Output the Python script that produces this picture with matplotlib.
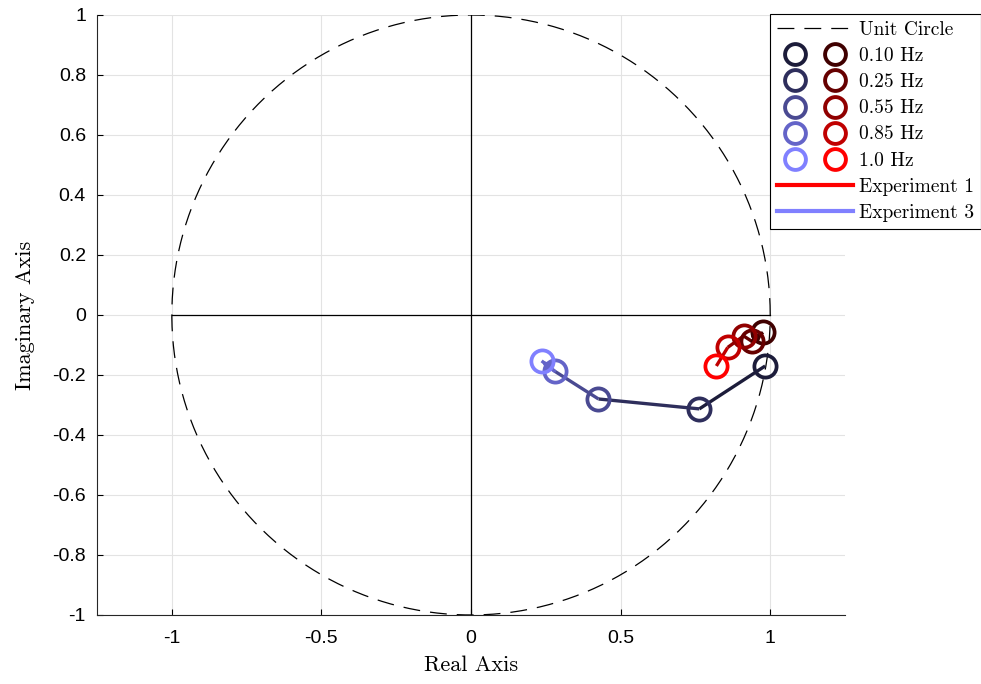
import numpy as np
import matplotlib

matplotlib.use("Agg")
import matplotlib.pyplot as plt
from matplotlib.lines import Line2D
from matplotlib.legend_handler import HandlerTuple

# frequencies and pole locations
freq_labels = ["0.10 Hz", "0.25 Hz", "0.55 Hz", "0.85 Hz", "1.0 Hz"]

exp1_re = [0.976, 0.939, 0.911, 0.858, 0.820]
exp1_im = [-0.058, -0.088, -0.070, -0.108, -0.170]

exp3_re = [0.983, 0.763, 0.426, 0.279, 0.236]
exp3_im = [-0.170, -0.313, -0.280, -0.187, -0.153]

blue_cols = ["#1c1c3a", "#2e2e5c", "#4a4a92", "#6464c8", "#8080ff"]
red_cols = ["#400000", "#660000", "#900000", "#c00000", "#ff0000"]

SERIF = "cmr10"
SANS = "Liberation Sans"
DASH = (13.5, 8)

fig = plt.figure(figsize=(9.81, 6.84), dpi=100)
ax = fig.add_axes([0.0989, 0.1009, 0.7625, 0.8772])

# grid + axes cross + unit circle
ax.grid(True, color="#e3e3e3", lw=0.8)
ax.set_axisbelow(True)
ax.plot([-1, 1], [0, 0], color="black", lw=0.9, zorder=1)
ax.plot([0, 0], [-1, 1], color="black", lw=0.9, zorder=1)
th = np.linspace(0, 2 * np.pi, 400)
ax.plot(np.cos(th), np.sin(th), color="black", lw=0.9, dashes=DASH, zorder=1)


def draw_track(re, im, cols, arrow_at_end):
    for i in range(len(re) - 1):
        ax.plot(re[i:i + 2], im[i:i + 2], color=cols[i], lw=2.4,
                solid_capstyle="butt", zorder=2)
    if arrow_at_end:
        a, b = -2, -1
    else:
        a, b = 1, 0
    ax.annotate("", xy=(re[b], im[b]), xytext=(re[a], im[a]),
                arrowprops=dict(arrowstyle="-|>", color=cols[min(a, b)],
                                lw=2.4, mutation_scale=12,
                                shrinkA=0, shrinkB=0), zorder=2)
    for x, y, c in zip(re, im, cols):
        ax.plot(x, y, "o", ms=16, mfc="none", mec=c, mew=2.7, zorder=3)


draw_track(exp3_re, exp3_im, blue_cols, True)
draw_track(exp1_re, exp1_im, red_cols, False)

ax.set_xlim(-1.25, 1.25)
ax.set_ylim(-1, 1)
xt = [-1, -0.5, 0, 0.5, 1]
yt = np.round(np.arange(-1, 1.01, 0.2), 1)
ax.set_xticks(xt)
ax.set_xticklabels(["-1", "-0.5", "0", "0.5", "1"])
ax.set_yticks(yt)
ax.set_yticklabels([("%g" % v) if v != 0 else "0" for v in yt])
for lab in ax.get_xticklabels() + ax.get_yticklabels():
    lab.set_fontfamily(SANS)
    lab.set_fontsize(14)
ax.tick_params(direction="in", length=4, width=0.8, pad=8)
ax.tick_params(axis="x", pad=11)
for s in ["top", "right"]:
    ax.spines[s].set_visible(False)
for s in ["left", "bottom"]:
    ax.spines[s].set_linewidth(0.8)
    ax.spines[s].set_color("#262626")

ax.set_xlabel("Real Axis", fontfamily=SERIF, fontsize=16, labelpad=6)
ax.set_ylabel("Imaginary Axis", fontfamily=SERIF, fontsize=16, labelpad=12)

# legend
handles = [Line2D([], [], color="black", lw=0.9, dashes=DASH)]
labels = ["Unit Circle"]
for i, lab in enumerate(freq_labels):
    hb = Line2D([], [], ls="none", marker="o", ms=15, mfc="none",
                mec=blue_cols[i], mew=2.8)
    hr = Line2D([], [], ls="none", marker="o", ms=15, mfc="none",
                mec=red_cols[i], mew=2.8)
    handles.append((hb, hr))
    labels.append(lab)
handles.append(Line2D([], [], color="#ff0000", lw=3))
labels.append("Experiment 1")
handles.append(Line2D([], [], color="#8080ff", lw=3))
labels.append("Experiment 3")

leg = fig.legend(handles, labels, loc="upper right",
                 bbox_to_anchor=(0.9995, 0.979),
                 handler_map={tuple: HandlerTuple(ndivide=None, pad=0.15)},
                 prop={"family": SERIF, "size": 14},
                 frameon=True, fancybox=False, edgecolor="black",
                 framealpha=1, borderpad=0.35, labelspacing=0.42,
                 handlelength=3.9, handletextpad=0.3, borderaxespad=0)
leg.get_frame().set_linewidth(0.8)

fig.savefig("out.png", dpi=100, facecolor="white")
